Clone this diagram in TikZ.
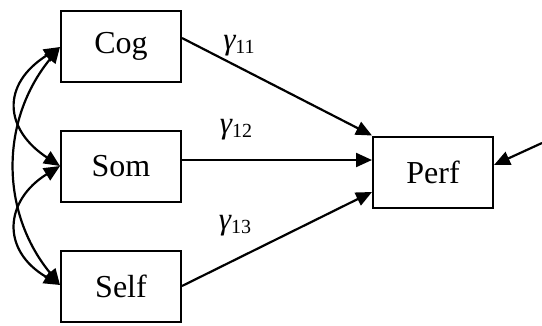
\documentclass[tikz,border=0pt]{standalone}
\usepackage{fontspec}
\setmainfont{Liberation Serif}
\usetikzlibrary{arrows.meta}
\newcommand{\coefsub}[1]{\raisebox{-4pt}{\fontsize{20}{20}\selectfont\upshape #1}}
\begin{document}
\begin{tikzpicture}[x=1pt,y=-1pt,
  var/.style={draw,line width=2pt,minimum width=120pt,minimum height=71pt,
    inner sep=0pt,font=\fontsize{32}{34}\selectfont},
  path/.style={line width=2.2pt,-{Triangle[length=16pt,width=14pt]}},
  cov/.style={line width=2.2pt,{Triangle[length=16pt,width=14pt]}-{Triangle[length=16pt,width=14pt]}},
  coef/.style={font=\fontsize{31}{32}\selectfont\itshape}]
\useasboundingbox (0,0) rectangle (542,325);
\node[var] (cog)  at (121,46)  {Cog};
\node[var] (som)  at (121,166) {Som};
\node[var] (self) at (121,286) {Self};
\node[var] (perf) at (433,172) {Perf};
\coordinate (err) at (542,143);
% structural paths into Perf
\draw[path] ([yshift=8pt]cog.east) -- (perf.north west);
\draw[path] ([yshift=6pt]som.east) -- ([yshift=12pt]perf.west);
\draw[path] (self.east) -- ([yshift=-20pt]perf.west);
\draw[path] (err) -- ([yshift=7pt]perf.east);
% path coefficients
\node[coef] (g11) at (239,46)  {γ\coefsub{11}};
\node[coef] (g12) at (236,130) {γ\coefsub{12}};
\node[coef] (g13) at (235,226) {γ\coefsub{13}};
% covariances among predictors
\draw[cov] ([yshift=-1pt]cog.west) .. controls (0,85) and (5,130) .. (som.west);
\draw[cov] (som.west) .. controls (5,200) and (0,250) .. ([yshift=1pt]self.west);
\draw[cov] ([yshift=-1pt]cog.west) .. controls (0,120) and (0,212) .. ([yshift=1pt]self.west);
\end{tikzpicture}
\end{document}
